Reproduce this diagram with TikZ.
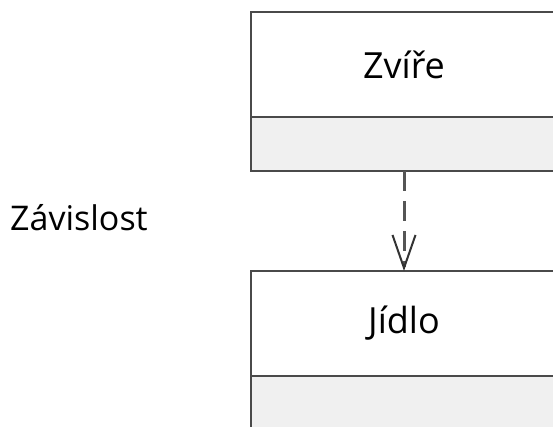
\documentclass[tikz,border=0pt]{standalone}
\usepackage{fontspec}
\setmainfont{Open Sans}
\usetikzlibrary{positioning}
\usetikzlibrary{arrows.meta}
\definecolor{linegray}{HTML}{4A4A4A}
\definecolor{arrowgray}{HTML}{555555}
\definecolor{compgray}{HTML}{F0F0F0}
\tikzset{%
  head/.style = {rectangle,draw=linegray,line width=2pt,fill=white,
        minimum width=306pt,minimum height=105pt,inner sep=0pt,outer sep=0pt,
        font=\fontsize{36}{40}\selectfont},
  comp/.style = {rectangle,draw=linegray,line width=2pt,fill=compgray,
        minimum width=306pt,minimum height=54pt,inner sep=0pt,outer sep=0pt},
  dep/.style = {draw=arrowgray,line width=3pt,dash pattern=on 20pt off 10pt,
        -{Straight Barb[length=33pt,width=23pt,line width=2pt,sep=0pt,color=black!80]}}
}

\begin{document}
\begin{tikzpicture}[x=1pt,y=1pt]
  \useasboundingbox (0,0) rectangle (553,426);
  \node[head] (zvire) at (404,361.5) {Zvíře};
  \node[comp,below=0pt of zvire] (zvirecomp) {};
  \node[head,below=100pt of zvirecomp] (jidlo) {Jídlo};
  \node[comp,below=0pt of jidlo] (jidlocomp) {};
  \draw[dep] (zvirecomp) -- (jidlo);
  \node[anchor=west,inner sep=0pt,font=\fontsize{34}{40}\selectfont] (zavislost) at (10,208) {Závislost};
\end{tikzpicture}
\end{document}
